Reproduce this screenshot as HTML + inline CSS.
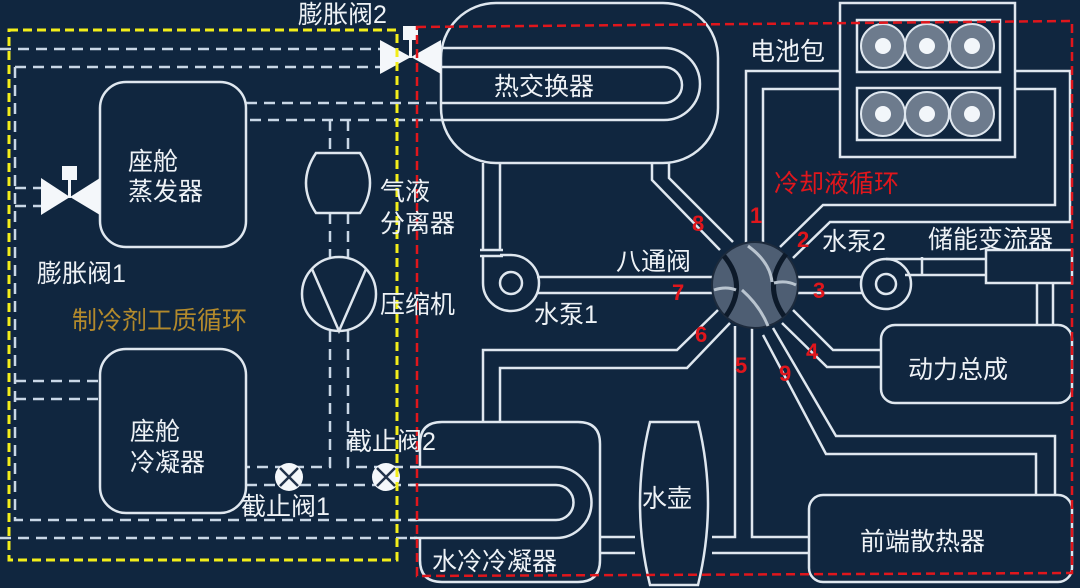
<!DOCTYPE html>
<html><head><meta charset="utf-8"><style>
html,body{margin:0;padding:0;background:#10263f;}
svg{display:block}
text{font-family:"Liberation Sans","Noto Sans CJK SC",sans-serif;}
</style></head><body>
<svg width="1080" height="588" viewBox="0 0 1080 588" xmlns="http://www.w3.org/2000/svg">
<rect width="1080" height="588" fill="#10263f"/>
<g stroke="#c9d7e6" stroke-width="2.5" fill="none" stroke-dasharray="11,7">
<path d="M0 49H380"/>
<path d="M15 67H380"/>
<path d="M15 67V520H417"/>
<path d="M0 538H417"/>
<path d="M15 188H41M15 206H41"/>
<path d="M15 381H100M15 399H100"/>
<path d="M246 103H441M250 120H441"/>
<path d="M330 120V153M348 120V153M330 213V257M348 213V257"/>
<path d="M330 331V467H246M348 331V467H417"/>
<path d="M246 485H417"/>
</g>
<g stroke="#dfe7ef" stroke-width="2.5" fill="none">
<rect x="100" y="82" width="146" height="165" rx="26"/>
<rect x="100" y="349" width="146" height="164" rx="26"/>
<path d="M316 153H360Q380 183 360 213H316Q296 183 316 153Z"/>
<circle cx="339" cy="294" r="37"/>
<path d="M312 269L339 331L366 269"/>
<rect x="441" y="3" width="277" height="160" rx="55"/>
<path d="M441 48H664A36 36 0 0 1 664 120H441"/>
<path d="M441 67H664A18 18 0 0 1 664 103H441"/>
<path d="M483 163V250M500 163V250M480 250H503M480 256H503"/>
<path d="M483 256V283A28 28 0 1 0 511 255H500"/>
<circle cx="511" cy="283" r="11"/>
<path d="M537 277H712M537 293H712"/>
<path d="M652 163V180L720 250M669 163V178L733 242"/>
<path d="M746 243V71H840M763 243V89H840"/>
<rect x="840" y="3" width="175" height="154"/>
<rect x="857" y="20" width="143" height="52"/>
<rect x="857" y="88" width="143" height="52"/>
<path d="M1015 71H1070V222H830L793 258M1015 89H1055V205H823L780 247"/>
<path d="M797 277H862M797 293H862"/>
<circle cx="886" cy="284" r="25"/>
<circle cx="886" cy="284" r="10"/>
<path d="M886 259H986M905 275H986M922 257V276"/>
<rect x="986" y="250" width="86" height="33"/>
<path d="M1037 283V325M1053 283V325"/>
<path d="M793 310L833 350H881M782 323L827 367H881"/>
<rect x="881" y="325" width="191" height="78" rx="14"/>
<path d="M773 328L836 436H1055V495M763 335L826 454H1036V495"/>
<rect x="809" y="495" width="263" height="87" rx="14"/>
<path d="M735 326V537H712M752 326V537H809M712 553H809"/>
<path d="M650 422H698Q718 503 698 585H650Q630 503 650 422Z"/>
<path d="M718 310L677 350H483V422M730 323L687 368H500V422"/>
<path d="M420 467V444Q420 422 442 422H578Q600 422 600 444V560Q600 582 578 582H442Q420 582 420 560V538"/>
<path d="M410 467H556A35.5 35.5 0 0 1 556 538H410"/>
<path d="M410 485H556A17.5 17.5 0 0 1 556 520H410"/>
<path d="M600 537H635M600 553H635"/>
</g>
<g fill="#6d7b8d" stroke="#dfe7ef" stroke-width="2">
<circle cx="883" cy="46" r="22"/><circle cx="927" cy="46" r="22"/><circle cx="972" cy="46" r="22"/>
<circle cx="883" cy="114" r="22"/><circle cx="927" cy="114" r="22"/><circle cx="972" cy="114" r="22"/>
</g>
<g fill="#f2f6fa">
<circle cx="883" cy="46" r="8"/><circle cx="927" cy="46" r="8"/><circle cx="972" cy="46" r="8"/>
<circle cx="883" cy="114" r="8"/><circle cx="927" cy="114" r="8"/><circle cx="972" cy="114" r="8"/>
</g>
<g fill="#f4f7fa">
<polygon points="41,178 41,215 70,197"/><polygon points="70,197 100,178 100,215"/>
<rect x="62" y="166" width="15" height="14"/><rect x="68" y="178" width="3" height="20"/>
<polygon points="380,40 380,74 411,57"/><polygon points="411,57 441,40 441,74"/>
<rect x="403" y="26" width="15" height="14"/><rect x="409" y="38" width="3" height="20"/>
<circle cx="289" cy="477" r="14"/><circle cx="386" cy="477" r="14"/>
</g>
<g stroke="#22334a" stroke-width="2.5">
<path d="M280 468L298 486M298 468L280 486M377 468L395 486M395 468L377 486"/>
</g>
<circle cx="755" cy="285" r="43" fill="#4e5e73" stroke="#1c2a3c" stroke-width="2"/>
<path d="M724 256Q748 285 726 316" stroke="#0d1a2a" stroke-width="5" fill="none"/>
<path d="M786 254Q762 285 784 316" stroke="#0d1a2a" stroke-width="5" fill="none"/>
<path d="M748 246Q770 262 772 282M742 290Q760 306 768 326M714 290Q726 286 736 290M774 283Q786 280 796 285" stroke="#b9c4cf" stroke-width="3" fill="none"/>
<rect x="9" y="30" width="388" height="530" fill="none" stroke="#f3ee1a" stroke-width="3" stroke-dasharray="9,5"/>
<path d="M417 27L1072 21V573L417 576Z" fill="none" stroke="#e0161c" stroke-width="2.5" stroke-dasharray="9,5"/>
<g fill="#eef2f6" font-size="25">
<text x="298" y="23">膨胀阀2</text>
<text x="494" y="95">热交换器</text>
<text x="750" y="60">电池包</text>
<text x="128" y="170">座舱</text>
<text x="128" y="200">蒸发器</text>
<text x="380" y="200">气液</text>
<text x="380" y="232">分离器</text>
<text x="37" y="282">膨胀阀1</text>
<text x="380" y="313">压缩机</text>
<text x="616" y="270">八通阀</text>
<text x="534" y="323">水泵1</text>
<text x="822" y="250">水泵2</text>
<text x="928" y="248">储能变流器</text>
<text x="908" y="378">动力总成</text>
<text x="130" y="440">座舱</text>
<text x="130" y="471">冷凝器</text>
<text x="347" y="450">截止阀2</text>
<text x="241" y="515">截止阀1</text>
<text x="642" y="507">水壶</text>
<text x="860" y="550">前端散热器</text>
<text x="432" y="570">水冷冷凝器</text>
</g>
<text x="72" y="329" font-size="25" fill="#b38a2c">制冷剂工质循环</text>
<text x="774" y="192" font-size="25" fill="#e0161c">冷却液循环</text>
<g fill="#e0161c" font-size="22" font-weight="bold">
<text x="692" y="231">8</text>
<text x="750" y="223">1</text>
<text x="797" y="247">2</text>
<text x="813" y="298">3</text>
<text x="672" y="300">7</text>
<text x="695" y="342">6</text>
<text x="735" y="373">5</text>
<text x="779" y="381">9</text>
<text x="806" y="359">4</text>
</g>
</svg>
</body></html>
